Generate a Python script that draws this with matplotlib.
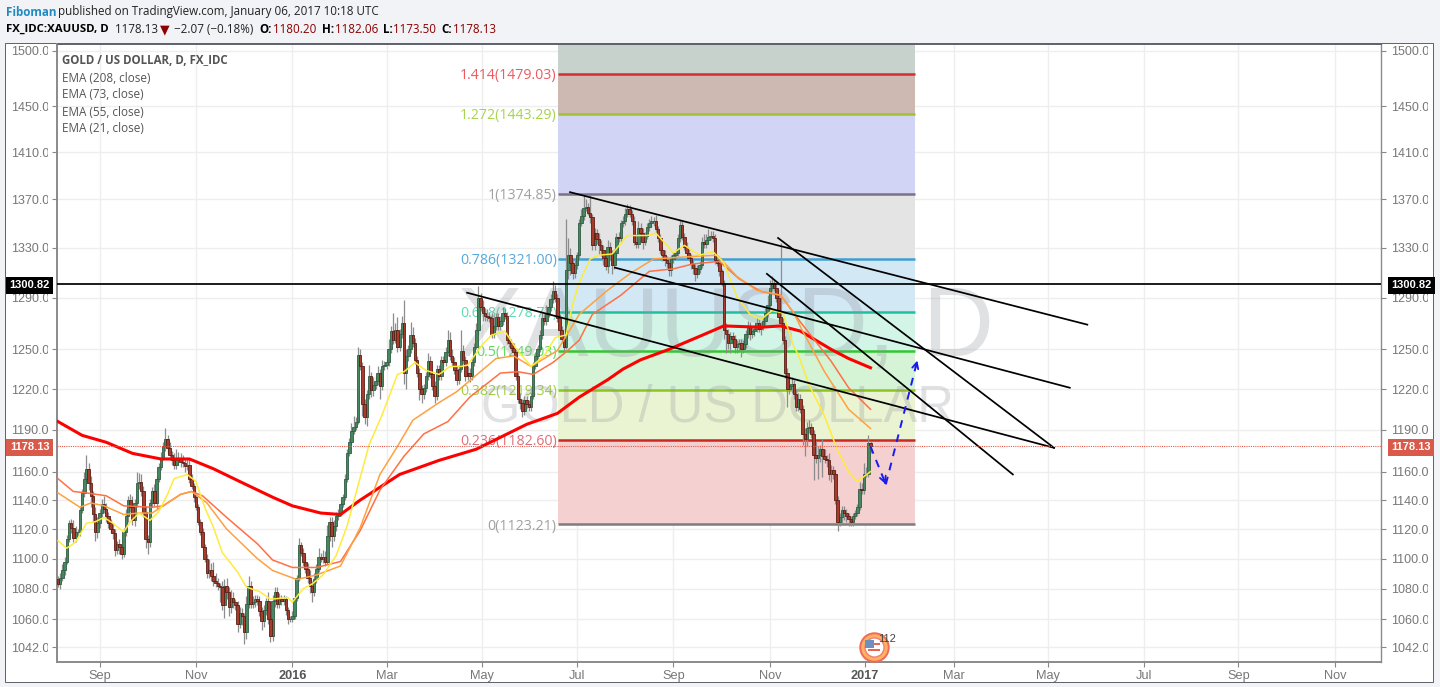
import numpy as np
import matplotlib
matplotlib.use('Agg')
import matplotlib.pyplot as plt
from matplotlib.patches import Rectangle
from matplotlib.ticker import FixedLocator, FixedFormatter, NullLocator
from matplotlib.transforms import Bbox

# daily closes, one bar per index
closes = [
    1083,1087,1092,1098,1113,1124,1121,1114,1118,1118,
    1133,1145,1155,1162,1152,1143,1130,1118,1124,1131,
    1137,1134,1129,1124,1120,1117,1106,1110,1108,1103,
    1118,1129,1140,1135,1126,1138,1152,1153,1146,1132,
    1113,1111,1138,1146,1138,1155,1163,1170,1178,1183,
    1177,1172,1168,1165,1168,1170,1167,1166,1164,1165,
    1155,1150,1142,1135,1125,1118,1108,1100,1090,1092,
    1088,1085,1084,1082,1081,1069,1082,1078,1068,1074,
    1071,1069,1057,1064,1062,1052,1070,1082,1070,1071,
    1073,1072,1065,1059,1066,1072,1060,1049,1072,1078,
    1070,1073,1072,1073,1066,1060,1060,1062,1074,1087,
    1109,1104,1098,1093,1087,1082,1078,1086,1093,1101,
    1100,1101,1098,1115,1125,1115,1122,1129,1131,1137,
    1142,1155,1173,1181,1189,1192,1196,1246,1237,1209,
    1199,1216,1230,1219,1223,1226,1232,1222,1237,1238,
    1240,1250,1264,1257,1265,1252,1262,1270,1232,1245,
    1250,1261,1255,1242,1232,1220,1216,1221,1230,1241,
    1231,1222,1215,1235,1230,1242,1240,1248,1257,1245,
    1240,1234,1227,1235,1249,1242,1230,1232,1230,1240,
    1252,1265,1290,1283,1278,1276,1275,1274,1262,1268,
    1275,1268,1272,1278,1276,1257,1255,1251,1248,1230,
    1213,1210,1204,1212,1209,1207,1215,1237,1245,1250,
    1261,1274,1272,1278,1283,1289,1295,1290,1274,1265,
    1258,1252,1312,1324,1318,1310,1316,1324,1350,1356,
    1363,1364,1359,1355,1332,1342,1337,1332,1328,1322,
    1315,1331,1325,1316,1326,1339,1338,1350,1352,1358,
    1362,1358,1352,1335,1333,1346,1342,1335,1340,1347,
    1350,1352,1352,1345,1338,1328,1324,1320,1318,1312,
    1321,1324,1326,1338,1349,1339,1331,1326,1322,1317,
    1314,1309,1313,1316,1335,1333,1336,1339,1340,1338,
    1320,1318,1311,1302,1265,1262,1255,1260,1258,1252,
    1254,1255,1250,1254,1262,1268,1262,1264,1266,1270,
    1266,1268,1272,1278,1284,1298,1302,1298,1290,1275,
    1270,1257,1232,1220,1222,1224,1216,1207,1213,1205,
    1187,1183,1191,1192,1187,1172,1170,1172,1176,1171,
    1169,1168,1158,1161,1158,1140,1125,1128,1133,1131,
    1129,1127,1125,1129,1131,1135,1148,1147,1158,1158,
    1180.20,1178.13]
first_open = 1086

# wick length above / below the body
wick_up = [
    2,3,4,3,3,2,3,5,4,2, 3,3,5,10,4,5,3,5,4,3, 4,6,4,3,3,4,3,2,3,2, 3,5,3,4,8,3,8,6,5,4,
    4,3,3,3,5,2,3,4,3,8, 3,4,3,5,8,4,3,5,3,4, 4,3,2,2,2,2,3,2,3,8, 5,10,5,3,2,4,4,5,3,5,
    4,2,3,4,3,2,5,6,3,4, 3,3,3,3,3,2,6,3,4,3, 3,4,3,3,2,2,2,3,3,2, 5,2,3,4,4,5,3,4,3,6,
    3,5,4,8,3,3,4,3,3,2, 2,3,3,3,6,8,3,6,4,3, 4,3,8,3,6,4,5,3,5,3, 3,8,4,14,5,10,4,6,18,5,
    3,10,6,4,3,4,3,3,3,6, 4,3,4,3,3,3,3,4,8,6, 5,4,3,3,16,4,3,5,4,4, 3,5,9,4,5,4,5,4,4,8,
    3,3,4,5,4,3,3,3,4,3, 3,4,3,3,3,3,3,3,3,3, 4,4,3,6,5,4,8,5,3,3, 3,3,42,14,6,3,4,3,4,6,
    11,6,3,15,3,4,3,5,4,4, 3,5,4,3,3,3,4,3,4,5, 4,3,3,4,6,6,4,4,3,3, 4,4,3,5,3,3,3,4,3,3,
    3,3,3,3,4,3,3,4,3,3, 3,3,3,3,4,6,5,6,4,4, 3,3,4,2,2,5,4,3,3,3, 3,3,3,3,3,4,3,3,3,5,
    3,3,3,4,8,6,5,3,3,3, 59,4,3,4,6,5,3,4,4,3, 3,4,5,5,3,3,10,6,3,7, 5,3,5,4,3,3,3,3,3,3,
    3,2,2,2,2,2,5,4,8,5, 6,1.86]
wick_down = [
    2,3,2,3,2,2,4,3,3,3, 3,2,3,4,5,8,5,6,4,3, 3,3,4,3,3,4,4,3,5,3, 2,3,4,3,3,4,3,4,3,4,
    6,8,3,3,2,4,2,2,2,3, 4,4,3,3,3,3,4,3,4,3, 3,2,3,2,2,2,2,2,3,3, 3,3,3,3,10,3,8,5,6,4,
    4,3,5,3,6,8,5,3,3,3, 3,3,3,6,4,3,3,4,3,4, 3,3,3,3,3,3,2,2,2,2, 2,2,3,3,3,5,7,3,2,2,
    2,3,3,2,3,7,3,3,3,2, 2,2,2,2,2,2,2,2,3,9, 5,6,3,5,4,3,3,9,3,3, 3,3,3,3,2,4,3,3,8,12,
    4,3,3,3,3,8,6,3,3,3, 3,3,5,3,3,3,3,3,3,3, 3,3,4,3,2,3,4,3,5,3, 3,2,3,3,6,4,3,3,3,3,
    3,3,3,3,3,3,3,2,3,3, 3,5,5,3,3,3,3,2,2,2, 2,3,3,3,3,3,3,3,3,3, 3,4,2,7,10,5,4,3,2,2,
    3,3,2,5,4,4,4,7,5,6, 3,5,5,7,3,3,3,3,3,3, 3,3,3,3,3,3,3,6,3,3, 3,3,4,3,3,3,5,5,4,5,
    5,3,3,3,3,3,3,3,3,4, 5,6,3,3,2,3,3,3,3,3, 3,3,4,3,7,15,5,8,5,5, 5,5,6,3,3,3,5,3,4,3,
    3,5,3,3,3,3,3,3,3,3, 3,3,4,13,4,5,3,3,3,3, 8,12,5,3,3,18,4,15,5,15, 3,5,4,5,3,3,6,3,4,5,
    4,5,3,3,2,2,2,3,3,2, 2,4.63]

# moving averages, sampled at the bars where they were read
ema208_bars = [0,11,22,34,47,60,71,83,98,107,120,129,138,156,174,191,214,228,238,251,258,266,279,293,304,321,330,339,346,353,361,371]
ema208_vals = [1196,1186,1181,1173,1169,1169,1162,1153,1142,1136,1131,1130,1140,1158,1168,1176,1194,1202,1214,1227,1235,1242,1250,1260,1268,1267,1268,1264,1257,1250,1243,1236]
ema73_bars = [0,7,13,22,30,43,48,56,61,66,77,91,98,107,118,129,138,147,158,167,178,188,202,210,217,226,232,238,244,257,270,281,290,302,311,321,330,339,353,361,371]
ema73_vals = [1155,1146,1145,1143,1136,1135,1136,1144,1146,1143,1128,1110,1099,1094,1094,1098,1119,1147,1171,1187,1196,1214,1232,1233,1231,1240,1248,1257,1277,1292,1311,1313,1317,1319,1305,1295,1292,1271,1241,1221,1205]
ema55_bars = [0,10,15,21,30,37,43,48,56,61,68,77,91,98,109,118,129,138,147,155,162,174,182,200,208,216,228,238,251,261,272,281,290,301,310,319,330,336,340,350,361,371]
ema55_vals = [1145,1135,1138,1136,1130,1131,1131,1136,1144,1146,1138,1120,1100,1092,1086,1089,1095,1121,1158,1178,1197,1210,1218,1243,1245,1237,1249,1277,1296,1309,1321,1322,1323,1324,1307,1296,1292,1278,1264,1233,1205,1191]
ema21_bars = [0,4,8,13,17,21,25,30,33,37,42,46,50,53,57,59,63,67,71,75,82,86,92,97,105,107,112,116,121,127,132,142,148,155,158,163,168,174,179,184,187,194,198,204,209,216,222,227,232,235,238,243,247,253,260,269,273,281,286,293,299,304,310,316,321,326,331,336,338,343,350,356,361,365,371]
ema21_vals = [1112,1107,1111,1124,1125,1128,1124,1118,1125,1131,1126,1132,1144,1155,1157,1158,1153,1135,1121,1104,1091,1081,1078,1073,1074,1071,1080,1083,1089,1102,1122,1179,1201,1231,1233,1240,1234,1231,1237,1237,1238,1254,1261,1264,1251,1237,1245,1259,1261,1285,1302,1321,1324,1325,1340,1340,1342,1326,1332,1324,1327,1318,1291,1277,1273,1280,1278,1252,1246,1223,1200,1175,1160,1153,1160]

# fibonacci retracement
fib_ratios = ['0', '0.236', '0.382', '0.5', '0.618', '0.786', '1', '1.272', '1.414']
fib_prices = [1123.21, 1182.60, 1219.34, 1249.03, 1278.77, 1321.00, 1374.85, 1443.29, 1479.03]
fib_start, fib_end = 228.3, 391.3

# drawn trend lines: (bar, price) ends
trend_lines = [
    ([233.8, 470.0], [1376, 1269]),
    ([186.8, 454.8], [1294, 1177]),
    ([254.3, 462.0], [1314, 1221]),
    ([328.8, 454.8], [1338, 1177]),
    ([323.7, 436.0], [1309, 1158]),
]
path_bars = [371, 378, 392.7]
path_prices = [1178, 1151, 1243.5]

hline_price = 1300.82
last_price = 1178.13

y_ticks = [1500, 1450, 1410, 1370, 1330, 1290, 1250, 1220, 1190, 1160, 1140, 1120, 1100, 1080, 1060, 1042]
x_tick_bars = [19, 63, 107, 150, 193.5, 237, 281, 325, 368.5, 409, 452, 496, 539, 583]
x_tick_labels = ['Sep', 'Nov', '2016', 'Mar', 'May', 'Jul', 'Sep', 'Nov', '2017', 'Mar', 'May', 'Jul', 'Sep', 'Nov']

W, H = 1440, 687
UI_FONT = 'Open Sans'
AXIS_FONT = 'Liberation Sans'

fill_colors = ['#f4d0d0', '#ebf4d2', '#d5f3d5', '#d2f5e8', '#d2e8f5', '#e4e4e4', '#d2d4f6', '#cdb9b2']
top_fill = '#c6d2cb'
line_colors = ['#7d7d7d', '#c9291f', '#8cc61e', '#2fc92f', '#1fc19c', '#3f9ed2', '#7b7189', '#a3c230', '#d42f2f']
label_colors = ['#a0a0a0', '#dc6f78', '#9fd042', '#5fdc5f', '#5cdcae', '#55a8dc', '#a0a0a0', '#a6d44a', '#ec5a60']


def px(x, y):
    # image pixels to figure fraction
    return x / W, 1 - y / H


fig = plt.figure(figsize=(W / 100, H / 100), dpi=100, facecolor='#f1f3f6')
fig.add_artist(Rectangle(px(5, 682), 1428 / W, 639 / H, transform=fig.transFigure,
                         facecolor='white', edgecolor='#5d606b', linewidth=0.7, zorder=-5))

ax = fig.add_axes([57 / W, (H - 662) / H, 1324 / W, 618 / H])
ax.set_facecolor('white')
ax.set_yscale('log')
ax.set_xlim(-0.457, 604.1)
ax.set_ylim(1032.6, 1506.4)

ax.yaxis.set_major_locator(FixedLocator(y_ticks))
ax.yaxis.set_major_formatter(FixedFormatter(['%.2f' % t for t in y_ticks]))
ax.yaxis.set_minor_locator(NullLocator())
ax.xaxis.set_major_locator(FixedLocator(x_tick_bars))
ax.xaxis.set_major_formatter(FixedFormatter(x_tick_labels))
ax.grid(True, color='#eeeeee', linewidth=1.0, zorder=0)
ax.set_axisbelow(True)
ax.tick_params(axis='y', which='major', length=3.6, width=0.8, color='#888888', labelcolor='#777777',
               left=True, right=True, labelleft=True, labelright=False, pad=-2.9, labelsize=9)
ax.tick_params(axis='x', which='major', length=3.6, width=0.8, color='#888888', labelcolor='#777777',
               pad=2.5, labelsize=9.2)
for side, col, lw in [('left', '#8a8a8a', 1.4), ('bottom', '#8a8a8a', 1.4), ('right', '#8a8a8a', 1.0), ('top', '#5d606b', 0.7)]:
    ax.spines[side].set_color(col)
    ax.spines[side].set_linewidth(lw)
for lab in ax.get_yticklabels():
    lab.set_fontfamily(AXIS_FONT)
    lab.set_clip_on(True)
    lab.set_clip_box(Bbox([[0, 0], [47.5, H]]))
for lab, txt in zip(ax.get_xticklabels(), x_tick_labels):
    lab.set_fontfamily(AXIS_FONT)
    if txt.isdigit():
        lab.set_fontweight('bold')
        lab.set_color('#555555')

# right hand price scale
for t in y_ticks:
    lab = ax.text(1.0076, t, '%.2f' % t, transform=ax.get_yaxis_transform(), ha='left', va='center_baseline',
                  fontsize=9, color='#777777', family=AXIS_FONT)
    lab.set_clip_path(None)
    lab.set_clip_on(True)
    lab.set_clip_box(Bbox([[1380, 0], [1428, H]]))

# fib bands and levels
edges = fib_prices + [1506.4]
for k in range(len(fib_prices)):
    col = fill_colors[k] if k < len(fill_colors) else top_fill
    ax.fill_between([fib_start, fib_end], edges[k], edges[k + 1], color=col, linewidth=0, zorder=1)
for k, (ratio, price) in enumerate(zip(fib_ratios, fib_prices)):
    ax.plot([fib_start, fib_end], [price, price], color=line_colors[k], lw=1.8, zorder=2, solid_capstyle='butt')
    ax.annotate('%s(%.2f)' % (ratio, price), (fib_start - 0.6, price), xytext=(0, -1.2), textcoords='offset points',
                ha='right', va='center', color=label_colors[k], fontsize=10.2, family=UI_FONT, zorder=2)

# watermark
ax.text(0.505, 0.537, 'XAUUSD, D', transform=ax.transAxes, ha='center', va='center', fontsize=71,
        color='#8f9299', alpha=0.27, family=AXIS_FONT, zorder=2)
ax.text(0.499, 0.411, 'GOLD / US DOLLAR', transform=ax.transAxes, ha='center', va='center', fontsize=36.5,
        color='#8f9299', alpha=0.27, family=AXIS_FONT, zorder=2)

# candles
c = np.array(closes, dtype=float)
o = np.concatenate([[first_open], c[:-1]])
bars = np.arange(len(c))
top = np.maximum(o, c)
bot = np.minimum(o, c)
highs = top + np.array(wick_up, dtype=float)
lows = bot - np.array(wick_down, dtype=float)
ax.vlines(bars, lows, highs, color='#8c8c8c', linewidth=0.9, zorder=3)
up = c >= o
ax.bar(bars[up], (top - bot)[up], bottom=bot[up], width=1.15, color='#46875f', edgecolor='#2f5d43', linewidth=0.6, zorder=4)
ax.bar(bars[~up], (top - bot)[~up], bottom=bot[~up], width=1.15, color='#a83c2c', edgecolor='#5c1d14', linewidth=0.6, zorder=4)

# ema lines
ax.plot(ema208_bars, ema208_vals, color='#ff0000', lw=2.2, zorder=5)
ax.plot(ema73_bars, ema73_vals, color='#ff7043', lw=1.1, zorder=5)
ax.plot(ema55_bars, ema55_vals, color='#ffa040', lw=1.1, zorder=5)
ax.plot(ema21_bars, ema21_vals, color='#ffeb3b', lw=1.1, zorder=5)

# trend lines
for xs, ys in trend_lines:
    ax.plot(xs, ys, color='black', lw=1.25, zorder=6)
ax.axhline(hline_price, color='black', lw=1.25, zorder=6)
ax.axhline(last_price, color='#e8594a', lw=0.8, ls=(0, (1, 1)), zorder=6)

# blue dashed projection
ax.plot(path_bars[:2], path_prices[:2], color='#1a1aee', lw=1.4, ls=(0, (4, 3.5)), zorder=7)
ax.plot(path_bars[1:], path_prices[1:], color='#1a1aee', lw=1.4, ls=(0, (4, 3.5)), zorder=7)
for k in [1, 2]:
    ax.annotate('', xy=(path_bars[k], path_prices[k]),
                xytext=(path_bars[k] - (path_bars[k] - path_bars[k - 1]) * 0.1, path_prices[k] - (path_prices[k] - path_prices[k - 1]) * 0.1),
                arrowprops=dict(arrowstyle='->', color='#1a1aee', lw=1.3, mutation_scale=11), zorder=7)

# price flags on both scales
for xa, ha in [(-0.00566, 'right'), (1.0076, 'left')]:
    for price, bg in [(hline_price, 'black'), (last_price, '#d9594a')]:
        ax.text(xa, price, '%.2f' % price, transform=ax.get_yaxis_transform(), ha=ha, va='center_baseline',
                fontsize=8, color='white', family=AXIS_FONT, fontweight='bold', zorder=10, clip_on=False,
                bbox=dict(boxstyle='square,pad=0.32', facecolor=bg, edgecolor='none'))

# little earnings icon near the axis
ax.scatter([372.5], [1042], s=420, facecolor='#ffb060', edgecolor='#f06a5a', linewidth=1.4, zorder=8)
ax.scatter([372.5], [1042], s=190, facecolor='white', edgecolor='#f08070', linewidth=1, zorder=8)
ax.scatter([372.5, 372.5], [1040, 1044], s=70, marker='_', color='#e8604f', linewidth=1.4, zorder=9)
ax.scatter([370.5], [1044], s=36, marker='s', facecolor='#6f8fc0', edgecolor='none', zorder=9)
icon = ax.text(374.5, 1047, '1129', fontsize=8, color='#444444', family=AXIS_FONT, va='center', zorder=9)
icon.set_clip_path(None)
icon.set_clip_on(True)
icon.set_clip_box(Bbox([[0, 0], [896, H]]))

# legend block
fig.text(*px(62, 60.5), 'GOLD / US DOLLAR, D, FX_IDC', fontsize=8.3, fontweight='bold', color='#555555', family=UI_FONT, va='center')
for y, s in zip([78, 95, 112, 129], ['EMA (208, close)', 'EMA (73, close)', 'EMA (55, close)', 'EMA (21, close)']):
    fig.text(*px(62, y), s, fontsize=8.5, color='#555555', family=UI_FONT, va='center')

# header lines
fig.text(*px(6, 12), 'Fiboman', fontsize=8.4, color='#1e8bc3', fontweight='bold', family=UI_FONT, va='center')
fig.text(*px(58, 12), 'published on TradingView.com, January 06, 2017 10:18 UTC', fontsize=8.4, color='#222222', family=UI_FONT, va='center')
fig.text(*px(6, 29.5), 'FX_IDC:XAUUSD, D', fontsize=8.2, color='black', fontweight='bold', family=UI_FONT, va='center')
fig.text(*px(115, 29.5), '1178.13', fontsize=8.4, color='#222222', family=UI_FONT, va='center')
fig.text(*px(160, 29.5), '\u25bc', fontsize=9, color='#8b0000', family='DejaVu Sans', va='center')
fig.text(*px(174, 29.5), '\u22122.07 (\u22120.18%)', fontsize=8.4, color='#222222', family=UI_FONT, va='center')
for xl, xv, lab, val in [(259, 273, 'O:', '1180.20'), (322, 335, 'H:', '1182.06'), (383, 393, 'L:', '1173.50'), (441, 453, 'C:', '1178.13')]:
    fig.text(*px(xl, 29.5), lab, fontsize=8.4, color='black', fontweight='bold', family=UI_FONT, va='center')
    fig.text(*px(xv, 29.5), val, fontsize=8.4, color='#8b0000', family=UI_FONT, va='center')

fig.savefig('out.png', dpi=100, facecolor=fig.get_facecolor())
plt.close(fig)
